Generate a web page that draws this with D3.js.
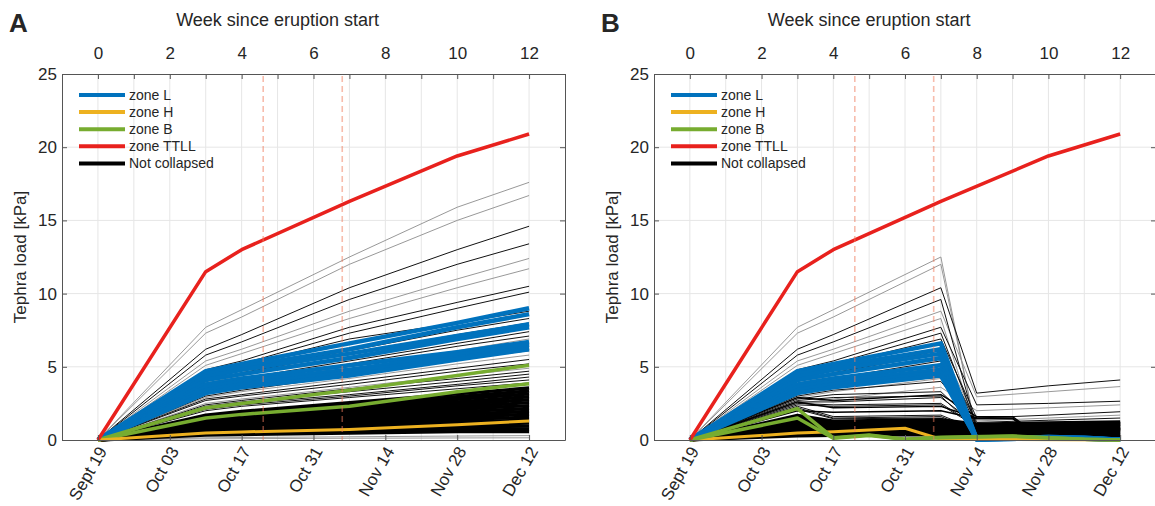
<!DOCTYPE html>
<html>
<head>
<meta charset="utf-8">
<script src="https://cdn.jsdelivr.net/npm/d3@7"></script>
<style>
  body { margin: 0; background: #fff; }
  svg text { font-family: "Liberation Sans", Arial, sans-serif; fill: #262626; }
</style>
</head>
<body>
<svg id="chart" width="1155" height="506"></svg>
<script>
// --- Axis labels ---
const weekTicks = [0, 1, 2, 3, 4, 5, 6, 7, 8, 9, 10, 11, 12, 13];
const dateTickWeeks = [0, 2, 4, 6, 8, 10, 12];
const dateLabels = ["Sept 19", "Oct 03", "Oct 17", "Oct 31", "Nov 14", "Nov 28", "Dec 12"];
const loadTicks = [0, 5, 10, 15, 20, 25];
const eventWeeks = [4.6, 6.8];
const legendNames = ["zone L", "zone H", "zone B", "zone TTLL", "Not collapsed"];

// --- Panel A data (weeks since eruption start) ---
const weeksA = [0, 3, 4, 7, 10, 12];
const ttll = [0, 11.5, 13.0, 16.3, 19.4, 20.9];
const zoneH_A = [0, 0.47, 0.55, 0.72, 1.05, 1.3];
const zoneB_A = [
  [0, 2.2, 2.5, 3.4, 4.4, 5.1],
  [0, 1.5, 1.75, 2.3, 3.3, 3.85]
];
const zoneL_A = [
  [0, 4.7, 5.2, 6.6, 8.0, 9.0],
  [0, 4.5, 5.0, 6.2, 7.7, 8.6],
  [0, 4.3, 4.8, 5.9, 7.1, 7.9],
  [0, 4.1, 4.5, 5.6, 6.9, 7.7],
  [0, 3.8, 4.2, 5.1, 6.0, 6.7],
  [0, 3.6, 4.0, 4.8, 5.8, 6.5],
  [0, 3.4, 3.8, 4.6, 5.6, 6.3],
  [0, 3.2, 3.6, 4.4, 5.5, 6.2]
];
const grayA = [
  [0, 7.7, 8.9, 12.5, 15.9, 17.6],
  [0, 7.3, 8.4, 12.0, 15.0, 16.7],
  [0, 5.4, 6.2, 8.8, 11.0, 12.4],
  [0, 5.1, 5.9, 8.3, 10.4, 11.7],
  [0, 4.3, 4.9, 6.3, 7.7, 8.5],
  [0, 3.9, 4.4, 5.7, 7.0, 7.8],
  [0, 3.4, 3.9, 5.0, 6.1, 6.9],
  [0, 2.9, 3.3, 4.2, 5.2, 5.8],
  [0, 2.5, 2.8, 3.6, 4.4, 4.9],
  [0, 0.15, 0.17, 0.22, 0.27, 0.3],
  [0, 0.08, 0.09, 0.12, 0.14, 0.15]
];
const blackA = [
  [0, 6.2, 7.2, 10.4, 13.0, 14.6],
  [0, 5.8, 6.7, 9.6, 12.0, 13.4],
  [0, 4.8, 5.4, 7.7, 9.4, 10.5],
  [0, 4.6, 5.2, 7.3, 9.0, 10.1],
  [0, 4.5, 5.1, 6.9, 8.0, 8.8],
  [0, 4.2, 4.8, 6.1, 7.5, 8.3],
  [0, 4.0, 4.6, 5.9, 7.2, 8.0],
  [0, 3.7, 4.2, 5.4, 6.6, 7.4],
  [0, 3.5, 4.0, 5.2, 6.4, 7.1],
  [0, 3.2, 3.6, 4.7, 5.8, 6.5],
  [0, 3.0, 3.4, 4.4, 5.5, 6.1],
  [0, 2.8, 3.1, 4.0, 4.9, 5.5],
  [0, 2.7, 3.0, 3.8, 4.7, 5.2],
  [0, 2.4, 2.7, 3.5, 4.2, 4.7],
  [0, 2.3, 2.6, 3.3, 4.0, 4.5],
  [0, 2.2, 2.5, 3.1, 3.8, 4.3],
  [0, 2.1, 2.4, 3.0, 3.7, 4.1],
  [0, 2.0, 2.3, 2.9, 3.5, 3.9]
];
const denseA = [
  [0, 1.70, 1.95, 2.55, 3.15, 3.55],
  [0, 1.60, 1.85, 2.40, 2.95, 3.35],
  [0, 1.50, 1.72, 2.25, 2.78, 3.15],
  [0, 1.42, 1.62, 2.12, 2.60, 2.95],
  [0, 1.33, 1.52, 1.98, 2.44, 2.75],
  [0, 1.25, 1.42, 1.85, 2.27, 2.55],
  [0, 1.15, 1.32, 1.71, 2.10, 2.35],
  [0, 1.06, 1.21, 1.57, 1.93, 2.15],
  [0, 0.97, 1.11, 1.44, 1.76, 1.95],
  [0, 0.88, 1.00, 1.30, 1.59, 1.75],
  [0, 0.79, 0.90, 1.17, 1.42, 1.55],
  [0, 0.70, 0.80, 1.03, 1.25, 1.35],
  [0, 0.61, 0.69, 0.89, 1.08, 1.15],
  [0, 0.52, 0.59, 0.76, 0.91, 0.95],
  [0, 0.43, 0.49, 0.62, 0.74, 0.75],
  [0, 0.34, 0.38, 0.48, 0.57, 0.57]
];

// --- Panel B data (collapsed roofs shed their load) ---
const weeksB = [0, 3, 4, 7, 8, 10, 12];
const zoneHWeeksB = [0, 3, 4, 6, 7, 12];
const zoneH_B = [0, 0.47, 0.57, 0.8, 0.05, 0.0];
const zoneBWeeksB = [0, 3, 4, 5, 6, 7, 9, 11, 12];
const zoneB_B = [
  [0, 2.15, 0.15, 0.35, 0.05, 0.18, 0.27, 0.05, 0.0],
  [0, 1.5, 0.12, 0.3, 0.05, 0.15, 0.25, 0.05, 0.0]
];
const zoneLWeeksB = [0, 3, 4, 7, 8, 10, 11, 12];
const zoneL_B = [
  [0, 4.7, 5.2, 6.6, 0.05, 0.2, 0.15, 0.02],
  [0, 4.5, 5.0, 6.2, 0.05, 0.2, 0.15, 0.02],
  [0, 4.3, 4.8, 5.9, 0.05, 0.15, 0.12, 0.02],
  [0, 4.1, 4.5, 5.6, 0.05, 0.15, 0.12, 0.02],
  [0, 3.8, 4.2, 5.1, 0.05, 0.12, 0.1, 0.02],
  [0, 3.6, 4.0, 4.8, 0.05, 0.12, 0.1, 0.02],
  [0, 3.4, 3.8, 4.6, 0.05, 0.1, 0.08, 0.02],
  [0, 3.2, 3.6, 4.4, 0.05, 0.1, 0.08, 0.02]
];
const grayB = [
  [0, 7.7, 8.9, 12.5, 0.35, 0.4, 0.45],
  [0, 7.3, 8.4, 12.0, 0.5, 0.55, 0.6],
  [0, 5.4, 6.2, 8.8, 2.95, 3.3, 3.65],
  [0, 5.1, 5.9, 8.3, 0.6, 0.65, 0.7],
  [0, 4.3, 4.9, 6.3, 1.3, 1.5, 1.7],
  [0, 3.9, 4.4, 5.7, 0.7, 0.75, 0.8],
  [0, 3.4, 3.9, 5.0, 0.9, 0.95, 1.0],
  [0, 2.9, 3.3, 4.2, 0.4, 0.45, 0.5],
  [0, 2.5, 2.8, 3.6, 2.0, 2.2, 2.4]
];
const blackB = [
  [0, 6.2, 7.2, 10.4, 3.2, 3.7, 4.1],
  [0, 5.8, 6.7, 9.6, 0.8, 0.9, 1.0],
  [0, 4.8, 5.4, 7.7, 2.4, 2.5, 2.65],
  [0, 4.6, 5.2, 7.3, 1.0, 1.1, 1.2],
  [0, 4.5, 5.1, 6.9, 1.5, 1.7, 1.93],
  [0, 4.2, 4.8, 6.1, 0.9, 1.0, 1.1],
  [0, 4.0, 4.6, 5.9, 1.2, 1.35, 1.5],
  [0, 3.7, 4.2, 5.4, 0.5, 0.55, 0.6],
  [0, 3.5, 4.0, 5.2, 0.8, 0.85, 0.9],
  [0, 3.2, 3.6, 4.3, 0.6, 0.65, 0.7],
  [0, 3.0, 3.4, 4.0, 1.1, 1.15, 1.2],
  [0, 2.8, 3.1, 3.3, 1.0, 1.05, 1.1],
  [0, 2.7, 2.9, 3.0, 0.7, 0.75, 0.8],
  [0, 2.6, 2.6, 2.9, 1.05, 1.1, 1.15],
  [0, 2.5, 2.4, 2.5, 0.95, 1.0, 1.05],
  [0, 2.4, 2.3, 2.4, 0.9, 0.95, 1.0],
  [0, 2.3, 1.6, 1.7, 0.7, 0.75, 0.8],
  [0, 2.2, 1.5, 1.6, 0.6, 0.65, 0.7],
  [0, 2.1, 1.45, 1.5, 0.55, 0.6, 0.65]
];
const denseB = [
  [0, 1.70, 1.30, 1.40, 1.10, 1.18, 1.25],
  [0, 1.55, 1.25, 1.33, 1.02, 1.10, 1.17],
  [0, 1.42, 1.18, 1.26, 0.95, 1.02, 1.08],
  [0, 1.30, 1.10, 1.18, 0.88, 0.94, 1.00],
  [0, 1.18, 1.02, 1.10, 0.80, 0.86, 0.92],
  [0, 1.06, 0.95, 1.02, 0.72, 0.78, 0.84],
  [0, 0.95, 0.88, 0.95, 0.65, 0.70, 0.76],
  [0, 0.85, 0.80, 0.88, 0.57, 0.62, 0.68],
  [0, 0.75, 0.72, 0.80, 0.50, 0.54, 0.60],
  [0, 0.65, 0.64, 0.72, 0.43, 0.47, 0.52],
  [0, 0.55, 0.56, 0.63, 0.36, 0.40, 0.44],
  [0, 0.45, 0.47, 0.54, 0.30, 0.33, 0.37],
  [0, 0.36, 0.39, 0.45, 0.24, 0.27, 0.30],
  [0, 0.28, 0.30, 0.36, 0.18, 0.21, 0.23]
];
const bumpWeeksB = [0, 3, 4, 7, 8, 9, 9.5, 12];
const bumpB = [
  [0, 2.9, 2.7, 3.1, 1.6, 1.6, 0.7, 0.8],
  [0, 2.6, 2.2, 2.3, 1.5, 1.5, 0.65, 0.75],
  [0, 2.0, 1.9, 2.0, 1.45, 1.45, 0.6, 0.7]
];

// --- Styling ---
const colors = { L: "#0072BD", H: "#EDB120", B: "#77AC30", TTLL: "#E8211D", gray: "#8c8c8c", black: "#111111" };
const legendColors = [colors.L, colors.H, colors.B, colors.TTLL, "#000"];
const yTop = 74, yBottom = 440;

const svg = d3.select("#chart");
const y = d3.scaleLinear().domain([0, 25]).range([yBottom, yTop]);

const panels = [
  {
    letter: "A", left: 62, right: 565,
    layers: [
      [weeksA, grayA, colors.gray, 0.9],
      [weeksA, blackA, colors.black, 1],
      [weeksA, denseA, "#000", 3.4],
      [weeksA, zoneL_A, colors.L, 4.5],
      [weeksA, zoneB_A, colors.B, 3.5],
      [weeksA, [zoneH_A], colors.H, 3],
      [weeksA, [ttll], colors.TTLL, 3.5]
    ]
  },
  {
    letter: "B", left: 654, right: 1156,
    layers: [
      [weeksB, grayB, colors.gray, 0.9],
      [weeksB, blackB, colors.black, 1],
      [weeksB, denseB, "#000", 3],
      [bumpWeeksB, bumpB, "#000", 1.4],
      [zoneLWeeksB, zoneL_B, colors.L, 4.5],
      [zoneHWeeksB, [zoneH_B], colors.H, 3],
      [zoneBWeeksB, zoneB_B, colors.B, 3.5],
      [weeksA, [ttll], colors.TTLL, 3.5]
    ]
  }
];

function drawGroup(g, x, weeks, rows, color, width) {
  const line = d3.line().x((d, i) => x(weeks[i])).y(d => y(d));
  g.append("g").selectAll("path").data(rows).join("path")
    .attr("d", line)
    .attr("fill", "none")
    .attr("stroke", color)
    .attr("stroke-width", width)
    .attr("stroke-linejoin", "round");
}

function styleAxis(a) {
  a.select(".domain").attr("stroke", "#555");
  a.selectAll(".tick line").attr("stroke", "#555");
  a.selectAll("text").attr("fill", "#262626").style("font-size", "17px")
    .style("font-family", "'Liberation Sans', Arial, sans-serif");
}

function drawPanel(p) {
  const x = d3.scaleLinear().domain([-1, 13]).range([p.left, p.right]);
  const g = svg.append("g");

  // grid
  g.append("g").selectAll("line").data(weekTicks.slice(0, -1)).join("line")
    .attr("x1", d => x(d)).attr("x2", d => x(d))
    .attr("y1", yTop).attr("y2", yBottom)
    .attr("stroke", "#e6e6e6");
  g.append("g").selectAll("line").data(loadTicks.slice(1, -1)).join("line")
    .attr("x1", p.left).attr("x2", p.right)
    .attr("y1", d => y(d)).attr("y2", d => y(d))
    .attr("stroke", "#e6e6e6");

  p.layers.forEach(l => drawGroup(g, x, l[0], l[1], l[2], l[3]));

  // eruption phase markers
  g.append("g").selectAll("line").data(eventWeeks).join("line")
    .attr("x1", d => x(d)).attr("x2", d => x(d))
    .attr("y1", yTop + 2).attr("y2", yBottom)
    .attr("stroke", "#f07a5a").attr("stroke-opacity", 0.5)
    .attr("stroke-width", 1.6).attr("stroke-dasharray", "6,4");

  // axes (box)
  const top = g.append("g").attr("transform", `translate(0,${yTop})`)
    .call(d3.axisTop(x).tickValues(weekTicks).tickSize(-5).tickSizeOuter(0).tickPadding(15)
      .tickFormat(d => (d % 2 === 0 && d <= 12) ? d : ""));
  styleAxis(top);

  const bottom = g.append("g").attr("transform", `translate(0,${yBottom})`)
    .call(d3.axisBottom(x).tickValues(dateTickWeeks).tickSize(-5).tickSizeOuter(0)
      .tickFormat((d, i) => dateLabels[i]));
  styleAxis(bottom);
  bottom.selectAll("text")
    .attr("x", 0).attr("y", 0).attr("dy", "0.35em")
    .attr("text-anchor", "end")
    .attr("transform", "translate(4,8) rotate(-60)");

  const left = g.append("g").attr("transform", `translate(${p.left},0)`)
    .call(d3.axisLeft(y).tickValues(loadTicks).tickSize(-5).tickSizeOuter(0).tickPadding(5));
  styleAxis(left);

  const right = g.append("g").attr("transform", `translate(${p.right},0)`)
    .call(d3.axisRight(y).tickValues(loadTicks).tickSize(-5).tickSizeOuter(0).tickFormat(""));
  styleAxis(right);

  // titles
  g.append("text").attr("x", p.left - 53).attr("y", 32)
    .style("font-size", "26px").style("font-weight", "bold").attr("fill", "#000")
    .text(p.letter);
  g.append("text").attr("x", x(5)).attr("y", 26).attr("text-anchor", "middle")
    .style("font-size", "18px").text("Week since eruption start");
  g.append("text").attr("transform", `translate(${p.left - 36},${(yTop + yBottom) / 2}) rotate(-90)`)
    .attr("text-anchor", "middle").style("font-size", "17px")
    .text("Tephra load [kPa]");

  // legend
  const lg = g.append("g").attr("transform", `translate(${p.left + 17},95)`);
  const item = lg.selectAll("g").data(legendNames).join("g")
    .attr("transform", (d, i) => `translate(0,${i * 17.1})`);
  item.append("line").attr("x1", 0).attr("x2", 46)
    .attr("stroke", (d, i) => legendColors[i]).attr("stroke-width", 4);
  item.append("text").attr("x", 50).attr("dy", "0.35em")
    .style("font-size", "14px").attr("fill", "#000").text(d => d);
}

panels.forEach(drawPanel);
</script>
</body>
</html>
